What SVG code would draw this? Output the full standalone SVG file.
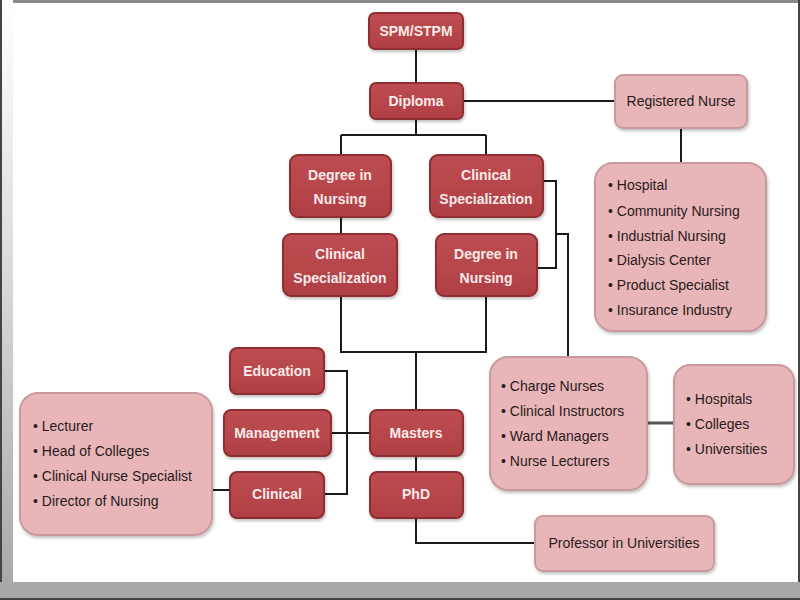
<svg xmlns="http://www.w3.org/2000/svg" width="800" height="600" viewBox="0 0 800 600">
<defs>
<linearGradient id="leftStrip" x1="0" y1="0" x2="0" y2="1">
<stop offset="0" stop-color="#ffffff"/>
<stop offset="0.4" stop-color="#e0e0e0"/>
<stop offset="1" stop-color="#a8a8a8"/>
</linearGradient>
<linearGradient id="redFill" x1="0" y1="0" x2="0" y2="1">
<stop offset="0" stop-color="#bd4d52"/>
<stop offset="1" stop-color="#b03f44"/>
</linearGradient>
<filter id="sh" x="-10%" y="-10%" width="130%" height="140%">
<feDropShadow dx="1" dy="2" stdDeviation="1.5" flood-color="#000" flood-opacity="0.25"/>
</filter>
<style>
.red{fill:url(#redFill);stroke:#8e2e33;stroke-width:2;filter:url(#sh)}
.pink{fill:#e8b6b9;stroke:#c99a9d;stroke-width:2;filter:url(#sh)}
.wt{font-family:"Liberation Sans",Arial,sans-serif;font-size:14px;font-weight:bold;fill:#fbeaea;text-anchor:middle}
.dt{font-family:"Liberation Sans",Arial,sans-serif;font-size:14px;fill:#2a1a1a;text-anchor:middle}
.lt{font-family:"Liberation Sans",Arial,sans-serif;font-size:14px;fill:#2a1a1a}
.ln{fill:none;stroke:#1a1a1a;stroke-width:2}
.lg{fill:none;stroke:#555;stroke-width:3}
</style>
</defs>
<rect width="800" height="600" fill="#ffffff"/>
<rect x="0" y="0" width="800" height="3" fill="#8a8a8a"/>
<rect x="2" y="0" width="11" height="585" fill="url(#leftStrip)"/>
<rect x="0" y="0" width="2" height="600" fill="#444"/>
<rect x="798" y="0" width="2" height="600" fill="#444"/>
<rect x="0" y="582" width="800" height="16" fill="#a9a9a9"/>
<rect x="0" y="598" width="800" height="2" fill="#444"/>

<g id="connectors">
<path class="ln" d="M416 49V83"/>
<path class="ln" d="M463 101H615"/>
<path class="ln" d="M681 128V163"/>
<path class="ln" d="M416 119V135M341 135H486M341 135V155M486 135V155"/>
<path class="ln" d="M341 217V234"/>
<path class="ln" d="M341 296V352H486V296M416 352V410"/>
<path class="ln" d="M543 181H556V268H537M556 234H568V357"/>
<path class="ln" d="M324 371H347V494H324"/>
<path class="ln" d="M331 433H370"/>
<path class="ln" d="M212 490H230"/>
<path class="ln" d="M416 456V472"/>
<path class="ln" d="M416 518V543H535"/>
<path class="lg" d="M647 423H674"/>
</g>

<g id="spm"><rect class="red" x="369" y="13" width="94" height="36" rx="6"/><text class="wt" x="416" y="36">SPM/STPM</text></g>
<g id="diploma"><rect class="red" x="370" y="83" width="93" height="36" rx="6"/><text class="wt" x="416" y="106">Diploma</text></g>
<g id="degree1"><rect class="red" x="290" y="155" width="101" height="62" rx="8"/><text class="wt" x="340" y="180">Degree in</text><text class="wt" x="340" y="204">Nursing</text></g>
<g id="clinspec1"><rect class="red" x="430" y="155" width="113" height="62" rx="8"/><text class="wt" x="486" y="180">Clinical</text><text class="wt" x="486" y="204">Specialization</text></g>
<g id="clinspec2"><rect class="red" x="283" y="234" width="114" height="62" rx="8"/><text class="wt" x="340" y="259">Clinical</text><text class="wt" x="340" y="283">Specialization</text></g>
<g id="degree2"><rect class="red" x="436" y="234" width="101" height="62" rx="8"/><text class="wt" x="486" y="259">Degree in</text><text class="wt" x="486" y="283">Nursing</text></g>
<g id="rn"><rect class="pink" x="615" y="75" width="132" height="53" rx="8"/><text class="dt" x="681" y="106">Registered Nurse</text></g>
<g id="rnlist"><rect class="pink" x="595" y="163" width="171" height="168" rx="18"/>
<text class="lt" x="608" y="190">• Hospital</text>
<text class="lt" x="608" y="216">• Community Nursing</text>
<text class="lt" x="608" y="241">• Industrial Nursing</text>
<text class="lt" x="608" y="265">• Dialysis Center</text>
<text class="lt" x="608" y="290">• Product Specialist</text>
<text class="lt" x="608" y="315">• Insurance Industry</text></g>
<g id="education"><rect class="red" x="230" y="348" width="94" height="46" rx="7"/><text class="wt" x="277" y="376">Education</text></g>
<g id="management"><rect class="red" x="224" y="410" width="107" height="46" rx="7"/><text class="wt" x="277" y="438">Management</text></g>
<g id="clinical"><rect class="red" x="230" y="472" width="94" height="46" rx="7"/><text class="wt" x="277" y="499">Clinical</text></g>
<g id="masters"><rect class="red" x="370" y="410" width="93" height="46" rx="7"/><text class="wt" x="416" y="438">Masters</text></g>
<g id="phd"><rect class="red" x="370" y="472" width="93" height="46" rx="7"/><text class="wt" x="416" y="499">PhD</text></g>
<g id="leftlist"><rect class="pink" x="20" y="393" width="192" height="142" rx="18"/>
<text class="lt" x="33" y="431">• Lecturer</text>
<text class="lt" x="33" y="456">• Head of Colleges</text>
<text class="lt" x="33" y="481">• Clinical Nurse Specialist</text>
<text class="lt" x="33" y="506">• Director of Nursing</text></g>
<g id="chargelist"><rect class="pink" x="490" y="357" width="157" height="133" rx="18"/>
<text class="lt" x="501" y="391">• Charge Nurses</text>
<text class="lt" x="501" y="416">• Clinical Instructors</text>
<text class="lt" x="501" y="441">• Ward Managers</text>
<text class="lt" x="501" y="466">• Nurse Lecturers</text></g>
<g id="hosplist"><rect class="pink" x="674" y="365" width="120" height="119" rx="16"/>
<text class="lt" x="686" y="404">• Hospitals</text>
<text class="lt" x="686" y="429">• Colleges</text>
<text class="lt" x="686" y="454">• Universities</text></g>
<g id="professor"><rect class="pink" x="535" y="516" width="179" height="55" rx="8"/><text class="dt" x="624" y="548">Professor in Universities</text></g>
</svg>
